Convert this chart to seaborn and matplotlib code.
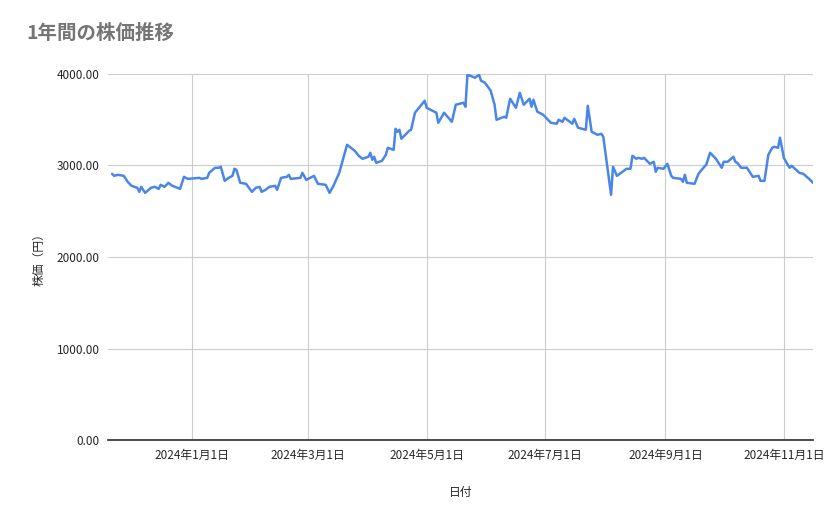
import matplotlib
matplotlib.use("Agg")
import matplotlib.pyplot as plt
import seaborn as sns
import pandas as pd

day_offsets = [-41,-40,-38,-35,-33,-31,-28,-27,-26,-24,-21,-19,-17,-16,-14,-12,-10,-6,-4,-2,4,5,8,9,12,14,15,17,19,21,22,23,25,28,31,33,35,36,38,40,43,44,46,49,50,51,56,57,59,63,65,69,71,73,76,80,84,86,88,91,92,93,94,95,98,100,101,104,105,106,107,108,112,113,115,120,121,126,127,130,134,136,140,141,142,146,148,149,151,154,156,157,161,162,164,167,169,171,174,175,176,178,181,185,188,189,191,192,196,197,199,203,204,206,209,211,212,216,217,219,224,226,227,229,230,232,233,236,238,239,240,243,245,247,248,252,253,254,255,259,261,264,265,267,270,273,274,276,279,280,281,283,286,289,292,293,295,297,299,300,302,303,305,307,308,309,313,315,318,320]
prices = [2907,2885,2896,2885,2820,2776,2754,2710,2765,2699,2754,2765,2743,2787,2765,2809,2776,2743,2874,2852,2863,2852,2863,2918,2973,2973,2984,2830,2863,2885,2962,2951,2809,2798,2710,2754,2765,2710,2732,2765,2776,2732,2863,2874,2896,2852,2863,2918,2841,2885,2798,2787,2699,2776,2918,3224,3158,3104,3071,3093,3137,3060,3093,3027,3049,3115,3191,3169,3399,3366,3388,3290,3377,3388,3574,3705,3628,3574,3464,3574,3475,3661,3683,3639,3989,3956,3989,3923,3902,3814,3661,3497,3530,3519,3727,3628,3792,3661,3727,3639,3716,3585,3552,3464,3454,3497,3475,3519,3454,3508,3410,3388,3650,3366,3333,3344,3311,2678,2984,2885,2962,2962,3104,3071,3082,3071,3082,3016,3038,2929,2973,2962,3016,2885,2863,2852,2820,2896,2809,2798,2907,2984,3005,3137,3071,2973,3038,3038,3093,3038,3027,2973,2973,2874,2885,2830,2830,3115,3191,3202,3191,3301,3082,3005,2973,2995,2918,2907,2852,2809,2754]
yticks = [0, 1000, 2000, 3000, 4000]
tick_dates = ["2024-01-01","2024-03-01","2024-05-01","2024-07-01","2024-09-01","2024-11-01"]
tick_labels = ["2024年1月1日","2024年3月1日","2024年5月1日","2024年7月1日","2024年9月1日","2024年11月1日"]

sns.set_theme(style="white")
plt.rcParams['font.family'] = ['Noto Sans CJK JP', 'DejaVu Sans']

base = pd.Timestamp("2024-01-01")
n = min(len(day_offsets), len(prices))
df = pd.DataFrame({"date": [base + pd.Timedelta(days=d) for d in day_offsets[:n]], "price": prices[:n]})

fig = plt.figure(figsize=(8.39, 5.19), dpi=100)
ax = fig.add_axes([0.129, 0.152, 0.84, 0.706])
sns.lineplot(data=df, x="date", y="price", ax=ax, color="#4a86e8", linewidth=1.8)
ax.set_xlim(base + pd.Timedelta(days=-43), base + pd.Timedelta(days=320))
ax.set_ylim(0, 4000)
ax.set_yticks(yticks)
ax.set_yticklabels([f"{v:.2f}" for v in yticks], fontsize=8.5)
ax.set_xticks([pd.Timestamp(t) for t in tick_dates])
ax.set_xticklabels(tick_labels, fontsize=8.5)
ax.grid(True, color="#cccccc", linewidth=0.8)
for s in ["top", "right", "left"]:
    ax.spines[s].set_visible(False)
ax.spines["bottom"].set_color("#333333")
ax.tick_params(length=0, pad=6)
ax.set_xlabel("日付", fontsize=8.5, labelpad=18)
ax.set_ylabel("株価（円）", fontsize=8.5, labelpad=8)
fig.text(0.032, 0.925, "1年間の株価推移", fontsize=14, color="#757575", fontweight="bold")
fig.savefig("out.png", dpi=100)
